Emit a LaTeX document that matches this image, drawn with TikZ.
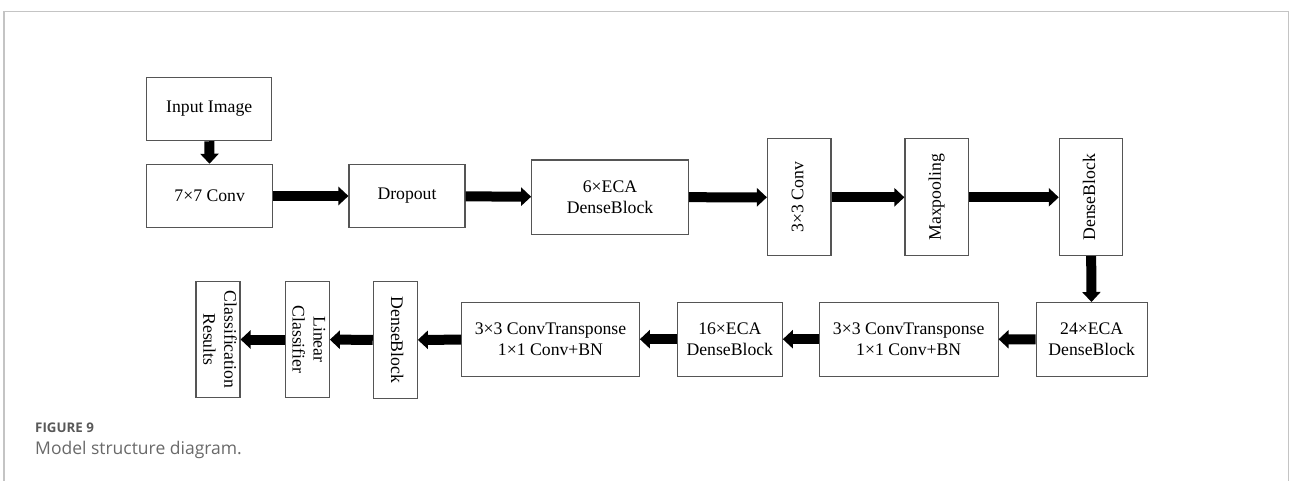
\documentclass[tikz,border=0pt]{standalone}
\usepackage{fontspec}
\setmainfont{Liberation Serif}
\newfontfamily\capfont{Open Sans}
\usepackage{tikz}
\usetikzlibrary{arrows.meta}

\definecolor{framegray}{RGB}{196,196,196}
\definecolor{boxgray}{RGB}{85,85,85}
\definecolor{capgray}{RGB}{88,88,88}
\definecolor{textgray}{RGB}{105,105,105}

\tikzset{
	block/.style={draw=boxgray,line width=1.1pt,fill=white,inner sep=0pt,align=center,font=\fontsize{17.7}{21}\selectfont},
	vblock/.style={block,minimum width=63.5pt,minimum height=116.7pt},
	thinblock/.style={block,minimum width=44pt,minimum height=115.6pt},
	flow/.style={-{Triangle[width=18pt,length=10pt]},line width=10pt,black},
}
\newcommand{\turned}[2]{\rotatebox{#1}{\begin{tabular}{@{}c@{}}#2\end{tabular}}}

\begin{document}
\begin{tikzpicture}[x=1pt,y=-1pt,line join=miter]
		\useasboundingbox (0,0) rectangle (1290,481);
		\draw [framegray,line width=1.5pt] (4,481) -- (4,11.3) -- (1288.5,11.3) -- (1288.5,481);
	
		% top row
		\node [block,minimum width=125pt,minimum height=63.4pt] (input) at (209.2,109) {Input Image};
		\node [block,minimum width=126pt,minimum height=63.4pt] (conv7) at (209.7,196) {7×7 Conv};
		\node [block,minimum width=116pt,minimum height=63.4pt] (drop) at (407,196) {Dropout};
		\node [block,minimum width=156.6pt,minimum height=74.3pt] (eca6) at (610,197.2) {6×ECA\\DenseBlock};
		\node [vblock] (conv3) at (799.2,197.3) {\turned{90}{3×3 Conv}};
		\node [vblock] (maxp) at (936.7,197.3) {\turned{90}{Maxpooling}};
		\node [vblock,minimum width=63pt] (dense1) at (1090.8,197.3) {\turned{90}{DenseBlock}};
	
		% bottom row
		\node [block,minimum width=111.3pt,minimum height=73.5pt] (eca24) at (1091.7,339.3) {24×ECA\\DenseBlock};
		\node [block,minimum width=178.7pt,minimum height=73.7pt] (tconv1) at (908.7,339.2) {3×3 ConvTransponse\\1×1 Conv+BN};
		\node [block,minimum width=105pt,minimum height=73.7pt] (eca16) at (729.8,339.2) {16×ECA\\DenseBlock};
		\node [block,minimum width=177.6pt,minimum height=73.7pt] (tconv2) at (550.5,339.2) {3×3 ConvTransponse\\1×1 Conv+BN};
		\node [thinblock,minimum height=116.6pt] (dense2) at (395.3,340) {\turned{-90}{DenseBlock}};
		\node [thinblock] (lin) at (307.3,339.5) {\turned{-90}{Linear\\Classifier}};
		\node [thinblock] (cls) at (218,339.5) {\turned{-90}{Classification\\Results}};
	
		\draw [flow] (input) -- (conv7);
		\draw [flow] (conv7) -- (drop);
		\draw [flow] (drop) -- (eca6);
		\draw [flow] (eca6) -- (conv3);
		\draw [flow] (conv3) -- (maxp);
		\draw [flow] (maxp) -- (dense1);
		\draw [flow] (dense1) -- (eca24);
		\draw [flow] (eca24) -- (tconv1);
		\draw [flow] (tconv1) -- (eca16);
		\draw [flow] (eca16) -- (tconv2);
		\draw [flow] (tconv2) -- (dense2);
		\draw [flow] (dense2) -- (lin);
		\draw [flow] (lin) -- (cls);
	
		\node [anchor=base west,inner sep=0pt,text=capgray,font=\capfont\bfseries\fontsize{13.3}{16}\selectfont] (fig) at (35,432.5) {FIGURE 9};
		\node [anchor=base west,inner sep=0pt,text=textgray,font=\capfont\fontsize{17.5}{20}\selectfont] (cap) at (35,454.5) {Model structure diagram.};
	\end{tikzpicture}
\end{document}
